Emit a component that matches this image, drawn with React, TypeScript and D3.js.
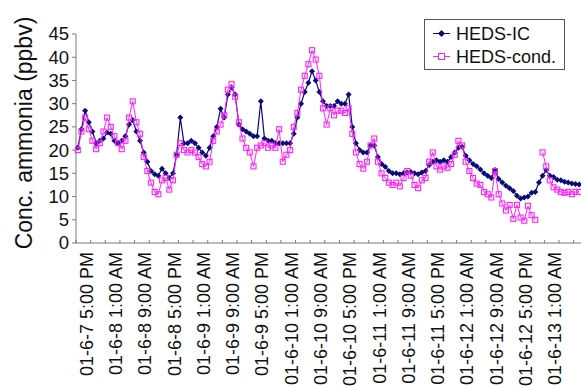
import React from "react";
import * as d3 from "d3";

// Hourly samples starting 01-6-7 4:00 PM
const startTime = new Date(2001, 5, 7, 16, 0);

const icValues: number[] = [
  20.5, 24.5, 28.5, 26, 24, 21.5, 22, 22.5, 23.8, 23.5, 22, 21.5, 22, 23, 25.5, 26.5,
  24, 22, 19.5, 17.5, 15.5, 14.8, 14.5, 16, 15, 14, 15, 19, 27, 21.5, 21.5, 22,
  21.5, 20.5, 19.5, 18.8, 20.5, 23, 25, 28.9, 27, 32, 33.5, 32, 25.5, 24.5, 24, 23.5,
  23, 23, 30.5, 22.5, 22, 22, 21.5, 21.5, 21.5, 21.5, 21.5, 23.5, 27, 30, 32.5, 34.5,
  37, 35, 32.5, 30.5, 29.5, 29.5, 29.5, 30.5, 30, 30, 32, 25, 21.5, 20, 19.5, 19.5,
  21, 21, 18.5, 17, 16.4, 15.5, 15, 15, 14.8, 15, 15.2, 15.3, 15, 14.8, 15.2, 15.5,
  16.8, 17.5, 17.8, 17.5, 17.8, 17.5, 18.5, 19.5, 20.5, 20.7, 18.8, 17.8, 17, 16.5, 15.8, 15,
  14.5, 14, 15.7, 13.8, 13, 12.3, 11.8, 11.2, 10.2, 9.6, 9.8, 10, 10.8, 11, 13, 14.5,
  15.7, 14.5, 14.2, 13.6, 13.5, 13.2, 13, 12.8, 12.7, 12.6,
];

const condValues: (number | null)[] = [
  20, 24, 27, 24.5, 22, 20.2, 21.5, 24, 27, 25, 23, 21.5, 20.2, 22, 27, 30.5,
  26, 23.5, 18.5, 15.5, 13, 11, 10.5, 13.5, 14, 11.5, 13.5, 19, 21.5, 20, 19.5, 20,
  19.5, 18.5, 17, 16.5, 17.5, 22, 24, 25.5, 27.5, 33, 34.2, 31.5, 26, 22.5, 20.5, 19.5,
  16.5, 20.5, 21, 21.5, 20.5, 21, 20.5, 24.5, 17.5, 19, 20, 25, 28, 33, 36, 38.5,
  41.5, 39.5, 36, 29, 25.5, 29, 27.5, 28.5, 28.5, 28, 29, 23.5, 19.5, 17, 16, 17.5,
  21, 22.5, 17.5, 15, 14, 13, 12.5, 13, 12.2, 14, 15.5, 14.5, 12.5, 11.8, 13.5, 14,
  17.5, 19.5, 16.5, 15.8, 16.5, 16.2, 17, 19, 22, 21, 17.5, 15.5, 14, 12.8, 12.5, 11,
  10.5, 9.8, 15.5, 10.5, 8.5, 7, 8.2, 5.2, 8.2, 5.5, 4.8, 8, 6, 5, null, 19.5,
  16.5, 13.5, 12, 11.5, 11, 10.8, 11, 10.5, 11, 11,
];

const categories: Date[] = icValues.map((_, i) => d3.timeHour.offset(startTime, i));

const xTickLabels: string[] = [
  "01-6-7 5:00 PM", "01-6-8 1:00 AM", "01-6-8 9:00 AM", "01-6-8 5:00 PM",
  "01-6-9 1:00 AM", "01-6-9 9:00 AM", "01-6-9 5:00 PM", "01-6-10 1:00 AM",
  "01-6-10 9:00 AM", "01-6-10 5:00 PM", "01-6-11 1:00 AM", "01-6-11 9:00 AM",
  "01-6-11 5:00 PM", "01-6-12 1:00 AM", "01-6-12 9:00 AM", "01-6-12 5:00 PM",
  "01-6-13 1:00 AM",
];

const yTicks: number[] = [0, 5, 10, 15, 20, 25, 30, 35, 40, 45];
const seriesNames: string[] = ["HEDS-IC", "HEDS-cond."];
const yTitle = "Conc. ammonia (ppbv)";

const W = 581;
const H = 387;
const FONT = "Arial, 'Liberation Sans', sans-serif";
const BLUE = "#0a0a78";
const PINK = "#ff22ff";
const AXIS = "#7a7a7a";

export default function App() {
  const left = 76;
  const right = 581;
  const top = 34;
  const bottom = 243;

  const x = d3
    .scaleBand<number>()
    .domain(categories.map((_, i) => i))
    .range([left, right])
    .paddingInner(0)
    .paddingOuter(0);
  const bw = x.bandwidth();
  const cx = (i: number) => (x(i) as number) + bw / 2;

  const y = d3.scaleLinear().domain([0, 45]).range([bottom, top]);

  const fmt = d3.timeFormat("%y-%-m-%-d %-I:%M %p");
  const labelShift = 5;
  const labelPositions = xTickLabels.map((lab) => {
    const idx = categories.findIndex((c) => fmt(c) === lab);
    return { lab, x: cx(idx) + labelShift };
  });

  const tickIdx = categories.map((_, i) => i).filter((i) => i % 4 === 0);

  const lineGen = d3
    .line<number | null>()
    .defined((d) => d != null)
    .x((_, i) => cx(i))
    .y((d) => y(d as number));

  const diamond = (px: number, py: number, r: number) =>
    `M${px},${py - r}L${px + r},${py}L${px},${py + r}L${px - r},${py}Z`;

  return (
    <svg
      width={W}
      height={H}
      style={{ position: "absolute", left: 0, top: 0, background: "#fff" }}
      fontFamily={FONT}
    >
      <rect width={W} height={H} fill="#fff" />
      {/* axes */}
      <line x1={left} x2={left} y1={top} y2={bottom} stroke={AXIS} strokeWidth={1} />
      <line x1={left} x2={right} y1={bottom} y2={bottom} stroke={AXIS} strokeWidth={1} />
      {yTicks.map((t) => (
        <g key={t}>
          <line x1={left - 4} x2={left} y1={y(t)} y2={y(t)} stroke={AXIS} />
          <text
            x={69}
            y={y(t)}
            dy="0.35em"
            textAnchor="end"
            fontSize={18.5}
            fill="#111"
          >
            {t}
          </text>
        </g>
      ))}
      {tickIdx.map((i) => (
        <line
          key={i}
          x1={x(i) as number}
          x2={x(i) as number}
          y1={bottom - 3}
          y2={bottom}
          stroke={AXIS}
        />
      ))}
      {labelPositions.map((p) => (
        <text
          key={p.lab}
          transform={`translate(${p.x},${bottom + 9}) rotate(-90)`}
          dy="0.35em"
          textAnchor="end"
          fontSize={18}
          fill="#111"
        >
          {p.lab}
        </text>
      ))}
      <text
        transform={`translate(31.5,133) rotate(-90)`}
        textAnchor="middle"
        fontSize={23}
        fill="#111"
      >
        {yTitle}
      </text>

      {/* HEDS-IC */}
      <path d={lineGen(icValues) || ""} fill="none" stroke={BLUE} strokeWidth={1.2} />
      {icValues.map((v, i) => (
        <path key={"b" + i} d={diamond(cx(i), y(v), 3)} fill={BLUE} />
      ))}

      {/* HEDS-cond. */}
      <path d={lineGen(condValues) || ""} fill="none" stroke={PINK} strokeWidth={1} />
      {condValues.map((v, i) =>
        v == null ? null : (
          <rect
            key={"p" + i}
            x={cx(i) - 2.5}
            y={y(v) - 2.5}
            width={5}
            height={5}
            fill="none"
            stroke={PINK}
            strokeWidth={1.1}
          />
        )
      )}

      {/* legend */}
      <rect x={424.5} y={19.5} width={140} height={50} fill="#fff" stroke="#555" strokeWidth={1} />
      <line x1={433} x2={450} y1={33.5} y2={33.5} stroke={BLUE} />
      <path d={diamond(441.5, 33.5, 3.5)} fill={BLUE} />
      <text x={456} y={33.5} dy="0.35em" fontSize={18} fill="#111">
        {seriesNames[0]}
      </text>
      <line x1={433} x2={450} y1={56.5} y2={56.5} stroke={PINK} />
      <rect x={438.5} y={53.5} width={6} height={6} fill="#fff" stroke={PINK} />
      <text x={456} y={56.5} dy="0.35em" fontSize={18} fill="#111">
        {seriesNames[1]}
      </text>
    </svg>
  );
}
